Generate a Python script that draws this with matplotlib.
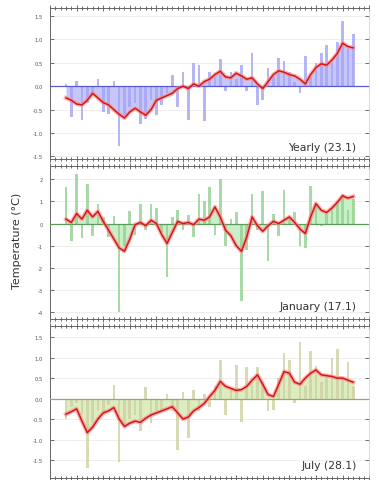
import numpy as np
import matplotlib
matplotlib.use('Agg')
import matplotlib.pyplot as plt
from matplotlib.ticker import MultipleLocator

years = np.arange(1953, 2008)

# yearly mean anomalies and smoothed curve
yearly = [0.05, -0.65, 0.12, -0.72, -0.35, -0.2, 0.15, -0.55, -0.6, 0.12,
          -1.28, -0.62, -0.45, -0.35, -0.8, -0.7, -0.3, -0.62, -0.4, -0.15,
          0.25, -0.45, 0.3, -0.72, 0.5, 0.45, -0.75, 0.3, 0.2, 0.58,
          -0.1, 0.3, 0.15, 0.45, -0.1, 0.7, -0.4, -0.3, 0.4, 0.2,
          0.6, 0.55, 0.3, 0.1, -0.15, 0.65, 0.2, 0.5, 0.7, 0.88,
          0.5, 0.95, 1.4, 0.8, 1.12]
yearly_smooth = [-0.25, -0.3, -0.38, -0.4, -0.3, -0.15, -0.25, -0.35, -0.4, -0.5,
                 -0.6, -0.68, -0.55, -0.47, -0.55, -0.62, -0.5, -0.3, -0.25, -0.2,
                 -0.15, -0.05, 0.0, -0.05, 0.05, 0.0, 0.1, 0.15, 0.25, 0.32,
                 0.2, 0.18, 0.28, 0.22, 0.15, 0.18, 0.05, -0.05, 0.1, 0.25,
                 0.33, 0.3, 0.25, 0.22, 0.15, 0.05, 0.25, 0.4, 0.48, 0.45,
                 0.56, 0.7, 0.92, 0.85, 0.82]

january = [1.65, -0.8, 2.25, -0.65, 1.8, -0.55, 0.9, 0.3, -0.6, 0.35,
           -4.0, -1.0, 0.55, -0.5, 0.9, -0.3, 0.9, 0.7, -0.4, -2.4,
           0.3, 0.6, -0.3, 0.4, -0.6, 1.35, 1.0, 1.65, -0.5, 2.0,
           -1.0, 0.2, 0.5, -3.5, -1.2, 1.35, -0.3, 1.45, -1.7, 0.45,
           -0.55, 1.5, 0.3, 0.5, -1.0, -1.1, 1.7, 0.8, -0.1, 0.5,
           0.7, 1.0, 1.35, 0.6, 1.1]
january_smooth = [0.2, 0.05, 0.45, 0.2, 0.6, 0.3, 0.55, 0.1, -0.3, -0.7,
                  -1.1, -1.25, -0.7, -0.05, 0.05, -0.1, 0.15, 0.0, -0.5, -0.9,
                  -0.4, 0.1, 0.0, 0.05, -0.05, 0.2, 0.15, 0.3, 0.75, 0.3,
                  -0.3, -0.55, -1.0, -1.25, -0.6, 0.3, -0.1, -0.35, -0.1, 0.1,
                  0.0, 0.15, 0.3, 0.05, -0.25, -0.45, 0.3, 0.9, 0.6, 0.5,
                  0.7, 0.95, 1.25, 1.15, 1.22]

july = [-0.5, -0.2, -0.1, -0.4, -1.7, -0.6, -0.3, -0.4, -0.15, 0.34,
        -1.55, -0.7, -0.5, -0.4, -0.8, 0.29, -0.6, -0.3, -0.25, 0.1,
        -0.3, -1.25, 0.17, -0.95, 0.2, -0.3, 0.1, -0.2, 0.3, 0.95,
        -0.39, 0.2, 0.83, -0.56, 0.78, 0.3, 0.76, 0.4, -0.3, -0.27,
        0.5, 1.12, 0.95, -0.1, 1.37, 0.3, 1.15, 0.8, 0.4, 0.6,
        1.0, 1.2, 0.5, 0.9, 0.3]
july_smooth = [-0.38, -0.32, -0.25, -0.55, -0.83, -0.7, -0.5, -0.35, -0.3, -0.22,
               -0.5, -0.68, -0.6, -0.55, -0.58, -0.48, -0.4, -0.35, -0.3, -0.25,
               -0.2, -0.35, -0.5, -0.45, -0.3, -0.22, -0.12, 0.05, 0.2, 0.42,
               0.3, 0.25, 0.2, 0.22, 0.3, 0.45, 0.58, 0.35, 0.1, 0.05,
               0.35, 0.66, 0.62, 0.4, 0.35, 0.5, 0.62, 0.7, 0.58, 0.56,
               0.54, 0.5, 0.5, 0.45, 0.4]

labels = ['Yearly (23.1)', 'January (17.1)', 'July (28.1)']

panels = [
    # data, smooth, ylim, ticks, tick fmt, bar color, fill color, zero color, axes rect
    (yearly, yearly_smooth, (-1.56, 1.67), np.arange(-1.5, 1.6, 0.5), '%.1f',
     '#a4a4f6', '#c6c6fb', '#5a5ad0', [0.132, 0.667, 0.842, 0.314]),
    (january, january_smooth, (-4.3, 2.6), np.arange(-4, 3, 1), '%d',
     '#94d094', '#c8f0c8', '#5a9a5a', [0.132, 0.335, 0.842, 0.318]),
    (july, july_smooth, (-1.94, 1.77), np.arange(-1.5, 1.6, 0.5), '%.1f',
     '#cfd1a4', '#dcedc0', '#9aa866', [0.132, 0.004, 0.842, 0.316]),
]

fig = plt.figure(figsize=(3.79, 4.81), dpi=100)

for i, (vals, smooth, ylim, ticks, fmt, bc, fc, zc, rect) in enumerate(panels):
    ax = fig.add_axes(rect)
    smooth = np.array(smooth)
    ax.fill_between(years, 0, smooth, color=fc, lw=0, zorder=1)
    ax.bar(years, vals, width=0.5, color=bc, alpha=0.8, zorder=2)
    ax.axhline(0, color=zc, lw=0.9, zorder=3)
    ax.plot(years, smooth, color='#ff8a8a', lw=3.0, alpha=0.65, zorder=4)
    ax.plot(years, smooth, color='#d01818', lw=1.1, zorder=5)

    ax.set_xlim(1950, 2010)
    ax.set_ylim(*ylim)
    ax.set_yticks(ticks)
    ax.set_yticklabels([fmt % t for t in ticks], fontsize=3.8, color='#555555')
    for t in ticks:
        ax.axhline(t, color='#f0eaea', lw=0.6, zorder=0)

    ax.xaxis.set_major_locator(MultipleLocator(5))
    ax.xaxis.set_minor_locator(MultipleLocator(1))
    ax.tick_params(axis='x', which='both', top=True, bottom=True, direction='inout',
                   labelbottom=False, color='#555555', width=0.6)
    ax.tick_params(axis='x', which='major', length=4)
    ax.tick_params(axis='x', which='minor', length=2.5)
    ax.tick_params(axis='y', which='major', left=True, right=True, direction='in',
                   length=3, width=0.6, color='#555555', pad=5)

    for side in ['top', 'bottom', 'left']:
        ax.spines[side].set_color('#666666')
        ax.spines[side].set_linewidth(0.7)
    ax.spines['right'].set_color('#cccccc')
    ax.spines['right'].set_linewidth(0.5)

    ax.text(0.96, 0.05, labels[i], transform=ax.transAxes, ha='right', va='bottom',
            fontsize=7.8, color='#333333')

fig.text(0.045, 0.5, 'Temperature (\u00b0C)', rotation=90, ha='center', va='center',
         fontsize=8, color='#333333')

fig.savefig('out.png', dpi=100)
